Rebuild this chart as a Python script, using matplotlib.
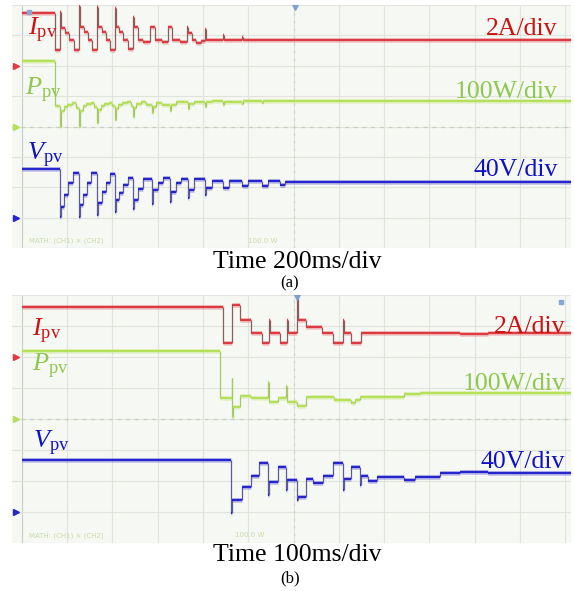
import matplotlib
matplotlib.use('Agg')
import matplotlib.pyplot as plt
import numpy as np

plt.rcParams['font.family'] = ['Liberation Serif', 'DejaVu Serif']
plt.rcParams['mathtext.fontset'] = 'custom'
plt.rcParams['mathtext.rm'] = 'Liberation Serif'
plt.rcParams['mathtext.it'] = 'Liberation Serif:italic'

# ---------------- data (time in screen divisions, levels in screen divisions) -------------
# Panel (a): 200 ms/div
a_I_t = [0.00, 0.73, 0.84, 0.86, 0.95, 1.05, 1.15,
         1.26, 1.28, 1.37, 1.46, 1.55,
         1.66, 1.68, 1.76, 1.85, 1.94,
         2.05, 2.07, 2.15, 2.24, 2.34,
         2.45, 2.47, 2.56, 2.67,
         2.83, 2.94, 3.10,
         3.22, 3.31, 3.50,
         3.64, 3.66, 3.75, 3.85, 3.95,
         4.04, 4.06, 4.44, 4.46, 4.86, 4.88]
a_I_v = [7.73, 6.51, 7.76, 7.24, 7.07, 6.86, 6.51,
         7.96, 7.26, 7.10, 6.86, 6.53,
         7.93, 7.26, 7.10, 6.86, 6.53,
         7.90, 7.26, 7.10, 6.86, 6.55,
         7.60, 7.27, 6.86, 6.78,
         7.27, 6.84, 6.78,
         7.27, 6.84, 6.78,
         7.27, 7.07, 6.84, 6.76, 6.82,
         7.20, 6.84, 7.00, 6.84, 6.95, 6.84]

a_P_t = [0.00, 0.73, 0.84, 0.86, 0.92, 1.00, 1.10, 1.20,
         1.26, 1.28, 1.34, 1.42, 1.52, 1.60,
         1.66, 1.68, 1.74, 1.82, 1.92, 2.00,
         2.05, 2.07, 2.13, 2.21, 2.31, 2.40,
         2.45, 2.47, 2.53, 2.62, 2.75,
         2.87, 2.89, 2.97, 3.10,
         3.27, 3.29, 3.40,
         3.66, 3.68, 3.80,
         4.04, 4.06, 4.20, 4.44, 4.46, 4.86, 4.88, 5.30, 5.32, 5.70]
a_P_v = [6.15, 4.66, 3.98, 4.50, 4.64, 4.72, 4.77, 4.62,
         3.98, 4.50, 4.66, 4.74, 4.78, 4.64,
         4.10, 4.54, 4.68, 4.75, 4.79, 4.66,
         4.20, 4.56, 4.70, 4.76, 4.80, 4.68,
         4.31, 4.60, 4.74, 4.80, 4.70,
         4.44, 4.64, 4.78, 4.72,
         4.50, 4.70, 4.80,
         4.58, 4.74, 4.82,
         4.65, 4.80, 4.84, 4.70, 4.82, 4.74, 4.84, 4.76, 4.84, 4.84]

a_V_t = [0.00, 0.84, 0.86, 0.93, 1.02, 1.12,
         1.26, 1.28, 1.35, 1.44, 1.52,
         1.66, 1.68, 1.76, 1.85, 1.94,
         2.05, 2.07, 2.15, 2.24, 2.34,
         2.45, 2.47, 2.56, 2.67,
         2.87, 2.89, 3.00, 3.12,
         3.27, 3.29, 3.40, 3.52,
         3.66, 3.68, 3.80,
         4.04, 4.06, 4.20,
         4.44, 4.58, 4.86, 5.00, 5.30, 5.44, 5.70, 5.82]
a_V_v = [2.60, 1.02, 1.35, 1.74, 2.14, 2.47,
         1.02, 1.41, 1.74, 2.14, 2.47,
         1.10, 1.48, 1.84, 2.14, 2.45,
         1.20, 1.58, 1.80, 2.07, 2.32,
         1.30, 1.58, 1.95, 2.27,
         1.45, 1.91, 2.14, 2.30,
         1.51, 1.84, 2.14, 2.27,
         1.64, 1.91, 2.27,
         1.74, 1.97, 2.22,
         1.97, 2.20, 2.04, 2.20, 2.04, 2.20, 2.07, 2.18]

# Panel (b): 100 ms/div
b_I_t = [0.00, 4.44, 4.64, 4.81, 5.06, 5.30, 5.45, 5.47, 5.70, 5.85, 5.87,
         6.07, 6.09, 6.27, 6.62, 6.87, 7.09, 7.11, 7.28, 7.48, 9.67, 10.29]
b_I_v = [7.61, 6.45, 7.68, 7.19, 6.77, 6.45, 7.19, 6.77, 6.45, 7.19, 6.77,
         7.90, 7.19, 6.97, 6.77, 6.45, 7.19, 6.77, 6.45, 6.77, 6.73, 6.79]

b_P_t = [0.00, 4.37, 4.64, 4.65, 4.67, 4.81, 5.06, 5.43, 5.45, 5.65, 5.83, 5.85,
         6.07, 6.27, 6.89, 7.28, 7.35, 7.46, 8.45, 8.79]
b_P_v = [6.19, 4.68, 5.32, 4.06, 4.39, 4.74, 4.68, 5.19, 4.55, 4.68, 5.06, 4.55,
         4.42, 4.71, 4.61, 4.52, 4.61, 4.71, 4.81, 4.84]

b_V_t = [0.00, 4.61, 4.64, 4.86, 5.06, 5.23, 5.43, 5.45, 5.65, 5.83, 5.85,
         6.07, 6.09, 6.27, 6.42, 6.64, 6.87, 7.09, 7.11, 7.28, 7.46, 7.48,
         7.64, 7.84, 8.45, 8.68, 9.23, 9.67, 10.29]
b_V_v = [2.68, 0.97, 1.39, 1.81, 2.16, 2.58, 1.55, 1.97, 2.45, 1.71, 2.03,
         1.39, 1.48, 2.06, 1.94, 2.16, 2.58, 1.71, 2.06, 2.45, 1.87, 2.16,
         2.00, 2.13, 2.03, 2.13, 2.26, 2.29, 2.26]

channel_offsets = [6, 4, 1]          # ground markers (div) for I, P, V
scale_labels = ['2A/div', '100W/div', '40V/div']
time_labels = ['Time 200ms/div', 'Time 100ms/div']
panel_labels = ['(a)', '(b)']

# ---------------- styling ----------------
W, H = 574, 591
fig = plt.figure(figsize=(W / 100, H / 100), dpi=100)

XMIN, XMAX = -0.22, 12.13
SCREEN = '#f6f8f3'
GRID = '#e0e4dc'

h_cols = ['#de3a44', '#b4e05a', '#2626cc']
v_cols = ['#8c5c5c', '#a6c866', '#5a5a9c']
t_cols = ['#cc1111', '#8ec84e', '#1111c4']


def draw_trace(ax, t, v, hcol, vcol):
    t = np.asarray(t, float)
    v = np.asarray(v, float)
    t_end = np.append(t[1:], XMAX)
    ax.hlines(v, t, t_end, colors=hcol, lw=3.6, alpha=0.22, zorder=2.5)
    ax.vlines(t[1:], v[:-1], v[1:], colors=vcol, lw=0.9, zorder=2.8)
    ax.hlines(v, t, t_end, colors=hcol, lw=1.7, zorder=3)


def setup_screen(ax):
    ax.set_xlim(XMIN, XMAX)
    ax.set_ylim(0, 8)
    ax.set_facecolor(SCREEN)
    for s in ax.spines.values():
        s.set_visible(False)
    ax.set_xticks([])
    ax.set_yticks([])
    for k in range(13):
        ax.axvline(k, color=GRID if k else '#c9cec5', lw=0.8, zorder=1)
    for k in range(9):
        ax.axhline(k, color=GRID, lw=0.8, zorder=1)
    ax.axhline(4, color='#c6cfbd', lw=0.9, ls=(0, (3, 4)), zorder=1.1)
    ax.axvline(6, color='#d0d5cc', lw=0.9, ls=(0, (2, 4)), zorder=1.1)


panels = [
    dict(rect=[12 / W, 1 - 248 / H, 559 / W, 243 / H],
         traces=[(a_I_t, a_I_v), (a_P_t, a_P_v), (a_V_t, a_V_v)],
         names_xy=[(0.13, 7.0), (0.07, 5.03), (0.11, 2.89)],
         scale_xy=[(11.83, 7.0), (11.83, 4.93), (11.83, 2.37)],
         trig_x=6.03, corner=(0.15, 7.78), readout_x=5.0,
         time_y=262, panel_y=283),
    dict(rect=[12 / W, 1 - 543 / H, 559 / W, 248 / H],
         traces=[(b_I_t, b_I_v), (b_P_t, b_P_v), (b_V_t, b_V_v)],
         names_xy=[(0.22, 6.68), (0.22, 5.52), (0.24, 3.06)],
         scale_xy=[(12.0, 6.77), (12.0, 4.94), (12.0, 2.42)],
         trig_x=6.07, corner=(11.9, 7.78), readout_x=4.7,
         time_y=555, panel_y=578),
]

names = [r'$I_{\rm pv}$', r'$P_{\rm pv}$', r'$V_{\rm pv}$']

for p, tlab, plab in zip(panels, time_labels, panel_labels):
    ax = fig.add_axes(p['rect'])
    setup_screen(ax)
    for (t, v), hc, vc in zip(p['traces'], h_cols, v_cols):
        draw_trace(ax, t, v, hc, vc)
    for (x, y), nm, tc in zip(p['names_xy'], names, t_cols):
        ax.text(x, y, nm, color=tc, fontsize=19, ha='left', va='baseline', zorder=5)
    for (x, y), sl, tc in zip(p['scale_xy'], scale_labels, t_cols):
        ax.text(x, y, sl, color=tc, fontsize=18.5, ha='right', va='baseline', zorder=5)
    # ground markers
    for off, hc in zip(channel_offsets, h_cols):
        ax.plot([-0.13], [off], marker='>', color=hc, ms=5, clip_on=False, zorder=6)
    # trigger markers
    ax.plot([p['trig_x']], [7.93], marker='v', color='#7f9fd0', ms=5, zorder=6)
    ax.plot([p['corner'][0]], [p['corner'][1]], marker='s', color='#8aa6d6', ms=3.5, zorder=6)
    # readout text
    ax.text(0.15, 0.18, 'MATH: (CH1) \u00d7 (CH2)', fontsize=5, color='#c9dbaa',
            family='DejaVu Sans', zorder=4)
    ax.text(p['readout_x'], 0.18, '100.0 W', fontsize=5, color='#c9dbaa',
            family='DejaVu Sans', zorder=4)
    fig.text(297 / W, 1 - p['time_y'] / H, tlab, fontsize=18.5, ha='center', va='center')
    fig.text(290 / W, 1 - p['panel_y'] / H, plab, fontsize=12, ha='center', va='center')

fig.savefig('out.png', dpi=100, facecolor='white')
